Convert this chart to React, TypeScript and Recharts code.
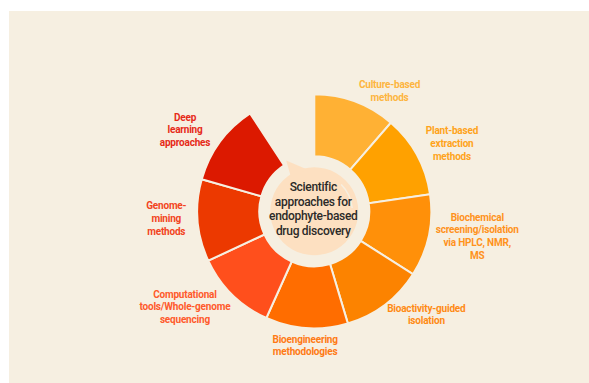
import { PieChart, Pie, Cell } from 'recharts';

// approach labels (line breaks as drawn), clockwise from 12 o'clock
const approaches = [
  'Culture-based\nmethods',
  'Plant-based\nextraction\nmethods',
  'Biochemical\nscreening/isolation\nvia HPLC, NMR,\nMS',
  'Bioactivity-guided\nisolation',
  'Bioengineering\nmethodologies',
  'Computational\ntools/Whole-genome\nsequencing',
  'Genome-\nmining\nmethods',
  'Deep\nlearning\napproaches',
];
// every approach gets the same share of the ring
const weights = [1, 1, 1, 1, 1, 1, 1, 1];
const sliceColors = ['#FFB134', '#FFA100', '#FF9009', '#FC8300', '#FF6D00', '#FF4F1C', '#EC3900', '#DC1900'];
const labelColors = ['#FDB540', '#FFA31A', '#FF921C', '#FF8A14', '#FF7A14', '#FF5A2C', '#F24422', '#E62A18'];
const centerLines = ['Scientific', 'approaches for', 'endophyte-based', 'drug discovery'];

// hand placement tweaks on top of the automatic outside position
const labelNudge = [
  [22, 6],
  [8, 0],
  [0, -6],
  [13, -4],
  [1, 0],
  [-14, -5],
  [-10, -4],
  [-12, 2],
];

const BG = '#F6EFE1';
const PEACH = '#FDE0C1';
const RAD = Math.PI / 180;

const data = approaches.map((name, i) => ({ name, value: weights[i] }));
const hub = [{ name: 'hub', value: 1 }];

function SliceLabel(props: any) {
  const { cx, cy, midAngle, outerRadius, index } = props;
  const lines = approaches[index].split('\n');
  const fs = 10;
  const lh = 12.6;
  const w = Math.max(...lines.map((l) => l.length)) * fs * 0.47;
  const h = lines.length * lh;
  const ux = Math.cos(-midAngle * RAD);
  const uy = Math.sin(-midAngle * RAD);
  const r = outerRadius + 5;
  const x = cx + ux * r + (ux * w) / 2 + labelNudge[index][0];
  const y = cy + uy * r + (uy * h) / 2 + labelNudge[index][1];
  const top = y - h / 2 + lh / 2 + fs * 0.35;
  return (
    <text textAnchor="middle" fontFamily="Roboto" fontWeight={700} fontSize={fs} fill={labelColors[index]} letterSpacing={-0.2}>
      {lines.map((l, i) => (
        <tspan key={i} x={x} y={top + i * lh}>
          {l}
        </tspan>
      ))}
    </text>
  );
}

// circular arrow decoration + title in the middle
function HubLabel(props: any) {
  const { cx, cy } = props;
  const pt = (r: number, deg: number) => `${cx + r * Math.sin(deg * RAD)},${cy - r * Math.cos(deg * RAD)}`;
  const lh = 14.5;
  return (
    <g>
      <polygon points={`${pt(38, 324)} ${pt(58, 331)} ${pt(43, 349)}`} fill={PEACH} />
      <path d={`M${pt(38, 45)} A38 38 0 0 1 ${pt(38, 85)}`} stroke={BG} strokeWidth={1.5} fill="none" />
      <text textAnchor="middle" fontFamily="Roboto" fontWeight={500} fontSize={12} fill="#2B2A28" letterSpacing={-0.3}>
        {centerLines.map((l, i) => (
          <tspan key={i} x={cx - 1} y={cy - 2.3 + (i - 1.5) * lh + 4.2}>
            {l}
          </tspan>
        ))}
      </text>
    </g>
  );
}

export default function App() {
  return (
    <div style={{ position: 'relative', width: 589, height: 383 }}>
      <style>{'body{margin:0}'}</style>
      <div style={{ position: 'absolute', left: 9, top: 11, width: 580, height: 372, background: BG }} />
      <div style={{ position: 'absolute', left: 0, top: 0 }}>
        <PieChart width={589} height={383}>
          <Pie
            data={data}
            dataKey="value"
            nameKey="name"
            cx={309.3}
            cy={206.3}
            innerRadius={55}
            outerRadius={117}
            startAngle={90}
            endAngle={-236.7}
            stroke={BG}
            strokeWidth={2}
            label={SliceLabel}
            labelLine={false}
            isAnimationActive={false}
          >
            {data.map((d, i) => (
              <Cell key={d.name} fill={sliceColors[i]} />
            ))}
          </Pie>
          <Pie
            data={hub}
            dataKey="value"
            cx={309.3}
            cy={206.3}
            innerRadius={0}
            outerRadius={44}
            fill={PEACH}
            stroke="none"
            label={HubLabel}
            labelLine={false}
            isAnimationActive={false}
          />
        </PieChart>
      </div>
    </div>
  );
}
